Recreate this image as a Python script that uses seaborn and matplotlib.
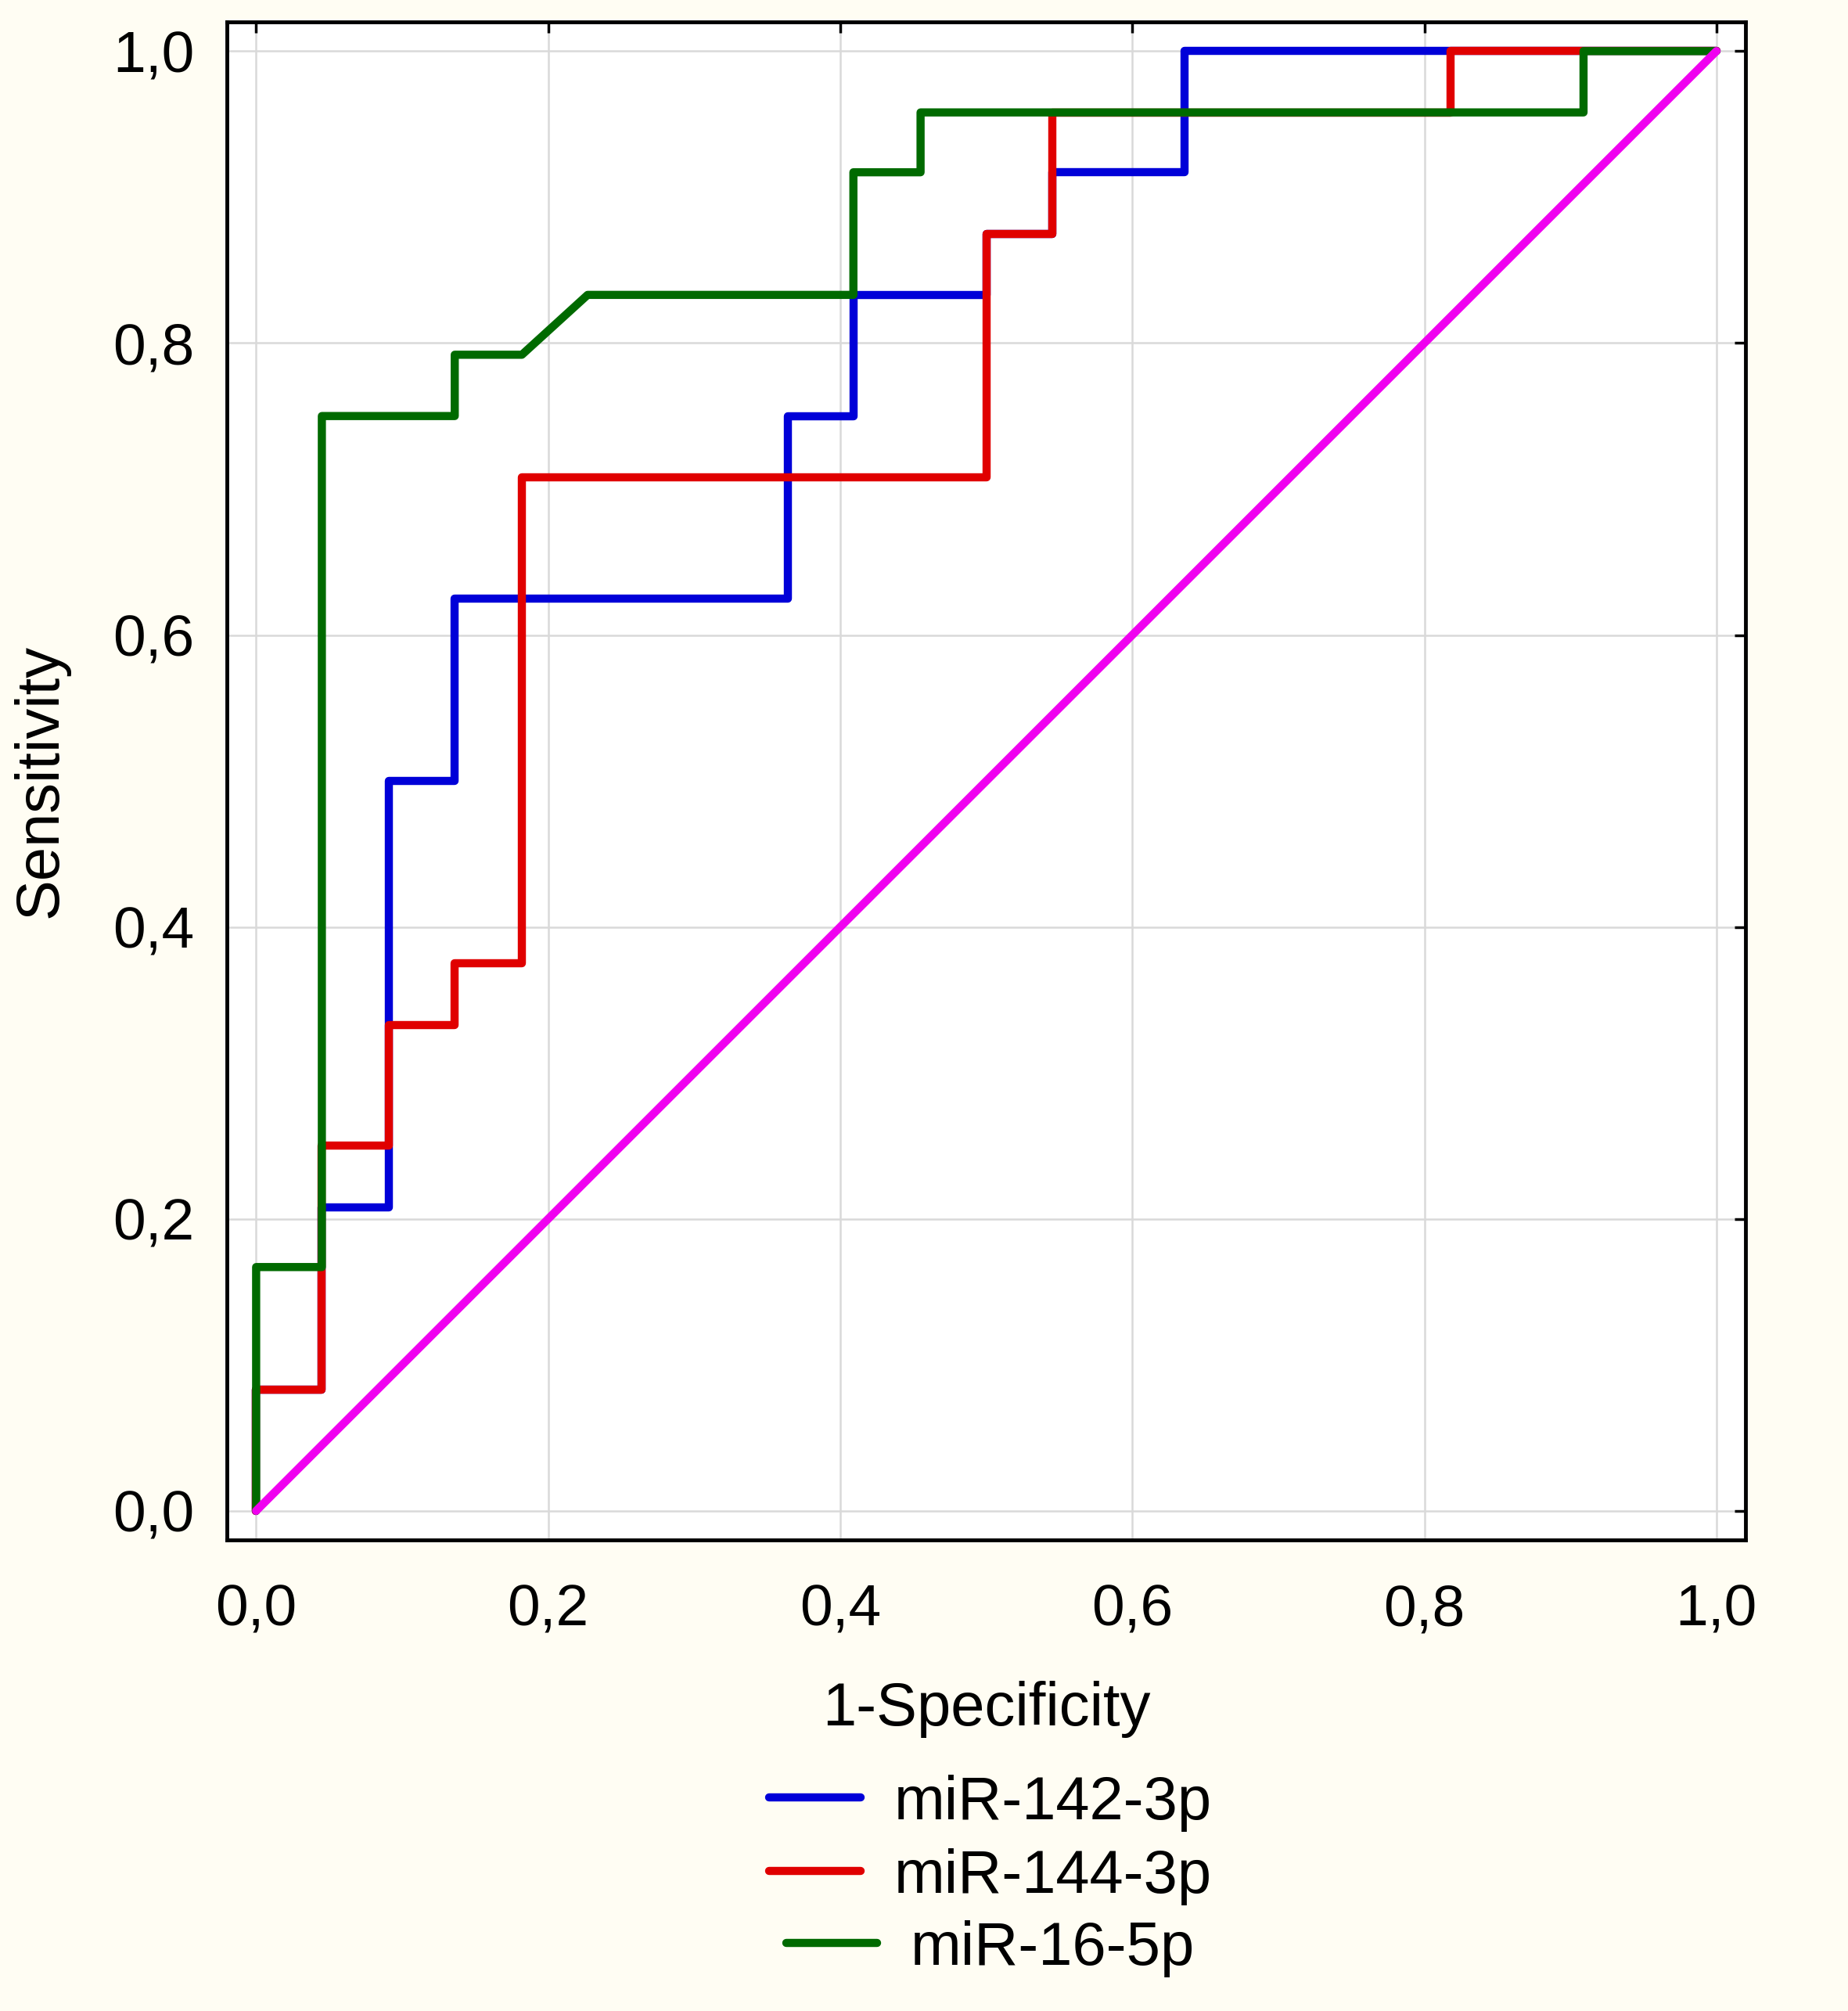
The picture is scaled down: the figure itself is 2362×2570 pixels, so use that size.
import matplotlib
matplotlib.use("Agg")
import matplotlib.pyplot as plt
from matplotlib.lines import Line2D
import pandas as pd
import seaborn as sns

# ROC curves
fpr_142 = [0.0, 0.0, 0.045, 0.045, 0.091, 0.091, 0.136, 0.136, 0.364, 0.364, 0.409, 0.409, 0.5, 0.5, 0.545, 0.545, 0.636, 0.636, 1.0]
tpr_142 = [0.0, 0.083, 0.083, 0.208, 0.208, 0.5, 0.5, 0.625, 0.625, 0.75, 0.75, 0.833, 0.833, 0.875, 0.875, 0.917, 0.917, 1.0, 1.0]

fpr_144 = [0.0, 0.0, 0.045, 0.045, 0.091, 0.091, 0.136, 0.136, 0.182, 0.182, 0.5, 0.5, 0.545, 0.545, 0.818, 0.818, 1.0]
tpr_144 = [0.0, 0.083, 0.083, 0.25, 0.25, 0.333, 0.333, 0.375, 0.375, 0.708, 0.708, 0.875, 0.875, 0.958, 0.958, 1.0, 1.0]

fpr_16 = [0.0, 0.0, 0.045, 0.045, 0.136, 0.136, 0.182, 0.227, 0.409, 0.409, 0.455, 0.455, 0.909, 0.909, 1.0]
tpr_16 = [0.0, 0.167, 0.167, 0.75, 0.75, 0.792, 0.792, 0.833, 0.833, 0.917, 0.917, 0.958, 0.958, 1.0, 1.0]

ref_x = [0.0, 1.0]
ref_y = [0.0, 1.0]

labels = ["miR-142-3p", "miR-144-3p", "miR-16-5p"]
colors = {"miR-142-3p": "#0000D8", "miR-144-3p": "#E00000", "miR-16-5p": "#006A00"}
tick_vals = [0.0, 0.2, 0.4, 0.6, 0.8, 1.0]
tick_labels = ["0,0", "0,2", "0,4", "0,6", "0,8", "1,0"]

frames = []
for name, xs, ys in zip(labels, [fpr_142, fpr_144, fpr_16], [tpr_142, tpr_144, tpr_16]):
    frames.append(pd.DataFrame({"fpr": xs, "tpr": ys, "miRNA": name}))
df = pd.concat(frames, ignore_index=True)

sns.set_style("white")
plt.rcParams["font.family"] = ["Liberation Sans", "DejaVu Sans"]
plt.rcParams["text.color"] = "black"
plt.rcParams["axes.labelcolor"] = "black"

bg = "#FFFDF3"
fig = plt.figure(figsize=(23.62, 25.70), dpi=100, facecolor=bg)
ax = fig.add_axes([0.1228, 0.2342, 0.8218, 0.7549])
ax.set_facecolor("white")

sns.lineplot(data=df, x="fpr", y="tpr", hue="miRNA", hue_order=labels,
             palette=colors, sort=False, estimator=None, lw=7.5,
             legend=False, ax=ax)
ax.plot(ref_x, ref_y, color="#F000F0", lw=7.5)

ax.set_xlim(-0.02, 1.02)
ax.set_ylim(-0.02, 1.02)
ax.set_xticks(tick_vals)
ax.set_xticklabels(tick_labels)
ax.set_yticks(tick_vals)
ax.set_yticklabels(tick_labels)
ax.grid(True, color="#D9D9D9", lw=1.8)
ax.set_axisbelow(True)

for s in ax.spines.values():
    s.set_visible(True)
    s.set_color("black")
    s.set_linewidth(3.5)

ax.tick_params(axis="both", direction="in", length=10, width=2.5,
               top=True, right=True, labelsize=54, colors="black",
               labelcolor="black")
ax.tick_params(axis="x", pad=40)
ax.tick_params(axis="y", pad=30)

ax.set_xlabel("1-Specificity", fontsize=56, labelpad=40, color="black")
ax.set_ylabel("Sensitivity", fontsize=56, labelpad=40, color="black")

# one centred legend per row, like the original
rows_y = [0.1035, 0.0669, 0.0311]
for name, yy in zip(labels, rows_y):
    h = Line2D([], [], color=colors[name], lw=7.5)
    fig.legend([h], [name], loc="center", bbox_to_anchor=(0.536, yy),
               frameon=False, fontsize=56, handlelength=1.5,
               handletextpad=0.55, borderpad=0, borderaxespad=0,
               labelcolor="black")

fig.savefig("out.png", dpi=100, facecolor=bg)
